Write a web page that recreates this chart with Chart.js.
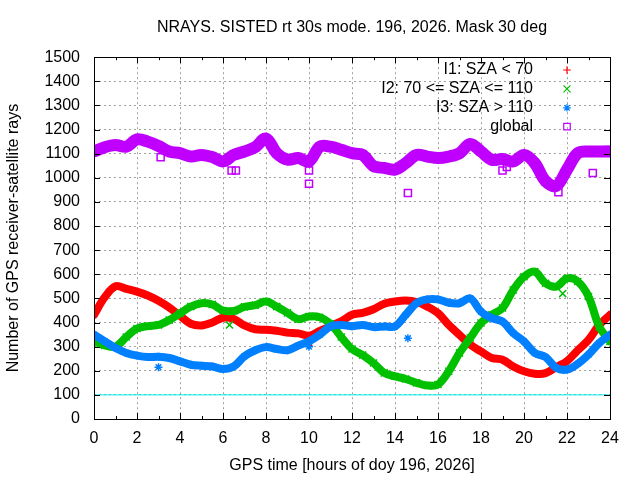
<!DOCTYPE html>
<html lang="en">
<head>
<meta charset="UTF-8">
<title>NRAYS</title>
<style>
  html, body { margin: 0; padding: 0; background: #fff; }
  #wrap { width: 640px; height: 480px; }
</style>
</head>
<body>
<div id="wrap"><canvas id="mychart" width="640" height="480"></canvas></div>
<script src="https://cdn.jsdelivr.net/npm/chart.js@4.4.1/dist/chart.umd.min.js"></script>
<script>
// values every half hour
var hours = [0, 0.5, 1, 1.5, 2, 2.5, 3, 3.5, 4, 4.5, 5, 5.5, 6, 6.5, 7, 7.5, 8, 8.5, 9, 9.5,
  10, 10.5, 11, 11.5, 12, 12.5, 13, 13.5, 14, 14.5, 15, 15.5, 16, 16.5, 17, 17.5, 18, 18.5, 19, 19.5,
  20, 20.5, 21, 21.5, 22, 22.5, 23, 23.5, 24];

var i1Vals = [432, 505, 550, 540, 528, 512, 490, 462, 428, 395, 388, 400, 420, 415, 388, 372, 370, 366, 358, 355,
  345, 365, 385, 405, 432, 440, 455, 478, 487, 491, 485, 466, 439, 390, 349, 308, 280, 253, 246, 218,
  198, 188, 190, 215, 240, 285, 328, 390, 432];

var i2Vals = [322, 305, 300, 340, 375, 385, 390, 410, 438, 466, 480, 475, 450, 448, 465, 472, 487, 466, 440, 414,
  425, 422, 395, 340, 290, 265, 232, 191, 177, 166, 150, 139, 143, 198, 274, 336, 398, 432, 460, 535,
  590, 611, 563, 549, 583, 570, 508, 383, 322];

var i3Vals = [350, 322, 294, 274, 263, 257, 258, 253, 239, 225, 221, 218, 207, 218, 260, 285, 298, 290, 285, 304,
  322, 349, 384, 390, 385, 390, 381, 384, 384, 432, 480, 496, 496, 482, 480, 500, 445, 418, 404, 356,
  322, 274, 257, 212, 205, 229, 267, 315, 349];

var globalVals = [1109, 1127, 1136, 1129, 1159, 1150, 1132, 1109, 1102, 1088, 1095, 1086, 1068, 1095, 1109, 1127, 1163, 1102, 1075, 1082,
  1068, 1129, 1129, 1116, 1102, 1095, 1048, 1041, 1034, 1061, 1095, 1088, 1082, 1088, 1102, 1140, 1109, 1075, 1078, 1068,
  1095, 1061, 986, 966, 1034, 1102, 1109, 1109, 1109];

// isolated points away from the bands
var i1OutX = [10.0];
var i1OutY = [305];
var i2OutX = [6.3, 21.8];
var i2OutY = [390, 520];
var i3OutX = [3.0, 10.0, 14.6];
var i3OutY = [215, 300, 335];
var globalOutX = [3.1, 6.4, 6.6, 10.0, 10.0, 14.6, 19.0, 19.2, 21.6, 23.2, 23.9];
var globalOutY = [1085, 1030, 1030, 975, 1030, 937, 1030, 1045, 940, 1020, 1115];

var refX = [0, 24];
var refY = [100, 100];

var seriesNames = ['I1: SZA < 70', 'I2: 70 <= SZA <= 110', 'I3: SZA > 110', 'global'];
var seriesColors = ['#ff0000', '#00c000', '#0080ff', '#c000ff'];
var seriesMarks = ['cross', 'crossRot', 'star', 'rect'];

var titleText = 'NRAYS. SISTED rt 30s mode. 196, 2026. Mask 30 deg';
var xTitle = 'GPS time [hours of doy 196, 2026]';
var yTitle = 'Number of GPS receiver-satellite rays';

function pts(xs, ys) {
  var out = [];
  for (var k = 0; k < xs.length; k++) out.push({ x: xs[k], y: ys[k] });
  return out;
}

function band(idx, vals, width, radius) {
  return {
    label: seriesNames[idx],
    data: pts(hours, vals),
    showLine: true,
    borderColor: seriesColors[idx],
    backgroundColor: 'transparent',
    borderWidth: width,
    borderCapStyle: 'round',
    borderJoinStyle: 'round',
    tension: 0.35,
    pointStyle: seriesMarks[idx],
    pointRadius: radius,
    pointBorderColor: seriesColors[idx],
    pointBackgroundColor: 'transparent',
    pointBorderWidth: 1.5,
    order: 10 - idx * 2
  };
}

function stray(idx, xs, ys, radius) {
  return {
    label: seriesNames[idx] + ' (stray)',
    data: pts(xs, ys),
    showLine: false,
    pointStyle: seriesMarks[idx],
    pointRadius: radius,
    pointBorderColor: seriesColors[idx],
    pointBackgroundColor: 'transparent',
    pointBorderWidth: 1.5,
    order: 9 - idx * 2
  };
}

Chart.defaults.font.family = '"Liberation Sans", Arial, sans-serif';
Chart.defaults.font.size = 16;
Chart.defaults.color = '#000';

// frame, inward ticks and gnuplot style key
var framePlugin = {
  id: 'frame',
  afterDraw: function (chart) {
    var ctx = chart.ctx, a = chart.chartArea;
    var xs = chart.scales.x, ys = chart.scales.y;
    ctx.save();
    ctx.strokeStyle = '#000';
    ctx.lineWidth = 1;
    ctx.beginPath();
    xs.ticks.forEach(function (t, k) {
      var px = Math.round(xs.getPixelForValue(t.value)) + 0.5;
      ctx.moveTo(px, a.bottom); ctx.lineTo(px, a.bottom - 6);
      ctx.moveTo(px, a.top); ctx.lineTo(px, a.top + 6);
      if (k < xs.ticks.length - 1) {
        var mx = Math.round(xs.getPixelForValue((t.value + xs.ticks[k + 1].value) / 2)) + 0.5;
        ctx.moveTo(mx, a.bottom); ctx.lineTo(mx, a.bottom - 3);
        ctx.moveTo(mx, a.top); ctx.lineTo(mx, a.top + 3);
      }
    });
    ys.ticks.forEach(function (t) {
      var py = Math.round(ys.getPixelForValue(t.value)) + 0.5;
      ctx.moveTo(a.left, py); ctx.lineTo(a.left + 6, py);
      ctx.moveTo(a.right, py); ctx.lineTo(a.right - 6, py);
    });
    ctx.stroke();
    ctx.strokeRect(Math.round(a.left) + 0.5, Math.round(a.top) + 0.5,
      Math.round(a.right - a.left), Math.round(a.bottom - a.top));

    // key
    ctx.font = '16px "Liberation Sans", Arial, sans-serif';
    ctx.textAlign = 'right';
    ctx.textBaseline = 'middle';
    for (var k = 0; k < seriesNames.length; k++) {
      var ky = 70 + k * 18.9;
      ctx.fillStyle = '#000';
      ctx.fillText(seriesNames[k], 533, ky);
      ctx.strokeStyle = seriesColors[k];
      ctx.fillStyle = 'transparent';
      ctx.lineWidth = 1.2;
      Chart.helpers.drawPoint(ctx, { pointStyle: seriesMarks[k], radius: k === 3 ? 4.6 : (k === 1 ? 5 : 3.8), rotation: 0, borderWidth: 1.2 }, 567, ky);
    }
    ctx.restore();
  }
};

var ctx = document.getElementById('mychart');

var mychart = new Chart(ctx, {
  type: 'scatter',
  data: {
    datasets: [
      band(0, i1Vals, 8, 3.5),
      stray(0, i1OutX, i1OutY, 3.5),
      band(1, i2Vals, 8, 5),
      stray(1, i2OutX, i2OutY, 5),
      band(2, i3Vals, 8, 4),
      stray(2, i3OutX, i3OutY, 4),
      band(3, globalVals, 12, 5),
      stray(3, globalOutX, globalOutY, 5),
      {
        label: 'level 100',
        data: pts(refX, refY),
        showLine: true,
        borderColor: '#00eeee',
        borderWidth: 1,
        pointRadius: 0,
        order: 0
      }
    ]
  },
  options: {
    responsive: false,
    animation: false,
    devicePixelRatio: 1,
    layout: { padding: { left: 0, right: 30, top: 0, bottom: 0 } },
    plugins: {
      legend: { display: false },
      tooltip: { enabled: false },
      title: {
        display: true,
        text: titleText,
        fullSize: false,
        color: '#000',
        font: { size: 16, weight: 'normal' },
        padding: { top: 18, bottom: 20 }
      }
    },
    scales: {
      x: {
        type: 'linear',
        min: 0,
        max: 24,
        ticks: { stepSize: 2, padding: 10, maxRotation: 0 },
        grid: { color: '#a0a0a0', lineWidth: 1, drawTicks: false },
        border: { display: false, dash: [2, 3] },
        title: { display: true, text: xTitle, padding: { top: 0, bottom: 5 } },
        afterFit: function (s) { s.height = 61; }
      },
      y: {
        min: 0,
        max: 1500,
        ticks: {
          stepSize: 100,
          padding: 14,
          callback: function (v) { return String(v); }
        },
        grid: { color: '#a0a0a0', lineWidth: 1, drawTicks: false },
        border: { display: false, dash: [2, 3] },
        title: { display: true, text: yTitle, padding: { top: 4, bottom: 0 } },
        afterFit: function (s) { s.width = 94; }
      }
    }
  },
  plugins: [framePlugin]
});
</script>
</body>
</html>
